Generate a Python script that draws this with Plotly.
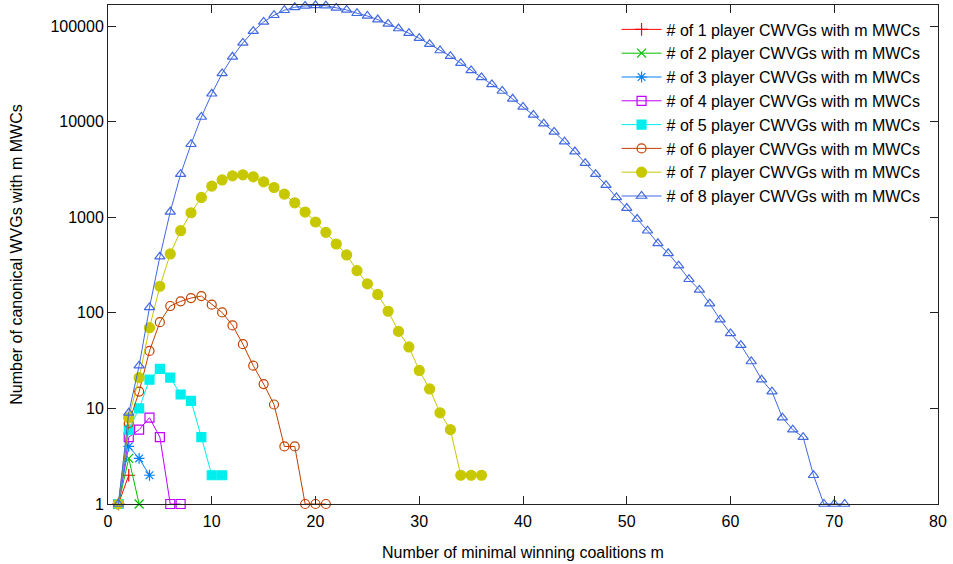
import plotly.graph_objects as go

# values for m = 1, 2, 3, ... (number of minimal winning coalitions)
p1 = [1, 2]
p2 = [1, 3, 1]
p3 = [1, 4, 3, 2]
p4 = [1, 5, 6, 8, 5, 1, 1]
p5 = [1, 6, 10, 20, 26, 21, 14, 12, 5, 2, 2]
p6 = [1, 7, 15, 40, 80, 118, 132, 143, 150, 122, 101, 74, 47, 28, 18, 11, 4, 4, 1, 1, 1]
p7 = [1, 8, 21, 70, 190, 414, 725, 1117, 1614, 2123, 2460, 2716, 2785, 2654, 2354,
      2052, 1750, 1419, 1135, 893, 696, 526, 404, 277, 201, 156, 104, 64, 44, 25, 16,
      9, 6, 2, 2, 2]
p8 = [1, 9, 28, 114, 388, 1143, 2832, 5821, 11220, 19640, 32060, 47830, 66950, 88700,
      110900, 130300, 146900, 157800, 163000, 165500, 164000, 155300, 148000, 136700,
      128000, 117400, 105700, 94600, 84500, 74900, 64900, 55700, 48600, 41100, 34500,
      29100, 24600, 21000, 17400, 14300, 11780, 9550, 7830, 6200, 4880, 3690, 2830,
      2170, 1614, 1250, 960, 724, 535, 420, 312, 225, 174, 125, 85, 61, 46, 31, 20, 15,
      8, 6, 5, 2, 1, 1, 1]

series = [p1, p2, p3, p4, p5, p6, p7, p8]
names = ["# of %d player CWVGs with m MWCs" % (i + 1) for i in range(8)]
colors = ["#ff0000", "#00c000", "#0080ff", "#c000ff", "#00eeee", "#c04000", "#c8c800", "#4169e1"]
symbols = ["cross-thin-open", "x-thin-open", "asterisk-open", "square-open",
           "square", "circle-open", "circle", "triangle-up-open"]
sizes = [9, 9, 9, 9, 9, 9, 10, 9]

x_ticks = [0, 10, 20, 30, 40, 50, 60, 70, 80]
y_ticks = [1, 10, 100, 1000, 10000, 100000]
y_ticktext = ["1", "10", "100", "1000", "10000", "100000"]

FONT = "Liberation Sans, Arial, sans-serif"
FS = 16

fig = go.Figure()
for vals, nm, col, sym, sz in zip(series, names, colors, symbols, sizes):
    fig.add_trace(go.Scatter(
        x=list(range(1, len(vals) + 1)), y=vals, name=nm, mode="lines+markers",
        line=dict(color=col, width=1),
        marker=dict(symbol=sym, size=sz, color=col, line=dict(color=col, width=1.2)),
        cliponaxis=False,
    ))

axis_common = dict(showline=True, linecolor="#222", linewidth=1, mirror="ticks",
                   ticks="inside", ticklen=8, tickcolor="#222", showgrid=False,
                   zeroline=False, automargin=False,
                   tickfont=dict(family=FONT, size=FS, color="#000"))

fig.update_layout(
    width=953, height=564,
    margin=dict(l=108, r=15, t=5, b=60),
    paper_bgcolor="white", plot_bgcolor="white",
    font=dict(family=FONT, size=FS, color="#000"),
    xaxis=dict(range=[0, 80], tickvals=x_ticks, ticklabelstandoff=3,
               title=dict(text="Number of minimal winning coalitions m", standoff=17,
                          font=dict(family=FONT, size=FS)),
               **axis_common),
    yaxis=dict(type="log", range=[0, 5.222], tickvals=y_ticks, ticktext=y_ticktext,
               title=dict(text="Number of canonical WVGs with m MWCs", standoff=23,
                          font=dict(family=FONT, size=FS)),
               **axis_common),
    legend=dict(x=0.985, xanchor="right", y=0.985, yanchor="top",
                bgcolor="rgba(255,255,255,0)", font=dict(family=FONT, size=FS),
                itemwidth=40, tracegroupgap=0),
    showlegend=True,
)

fig.write_html("out.html", config={"displayModeBar": False},
               post_script="document.body.style.margin='0';")
